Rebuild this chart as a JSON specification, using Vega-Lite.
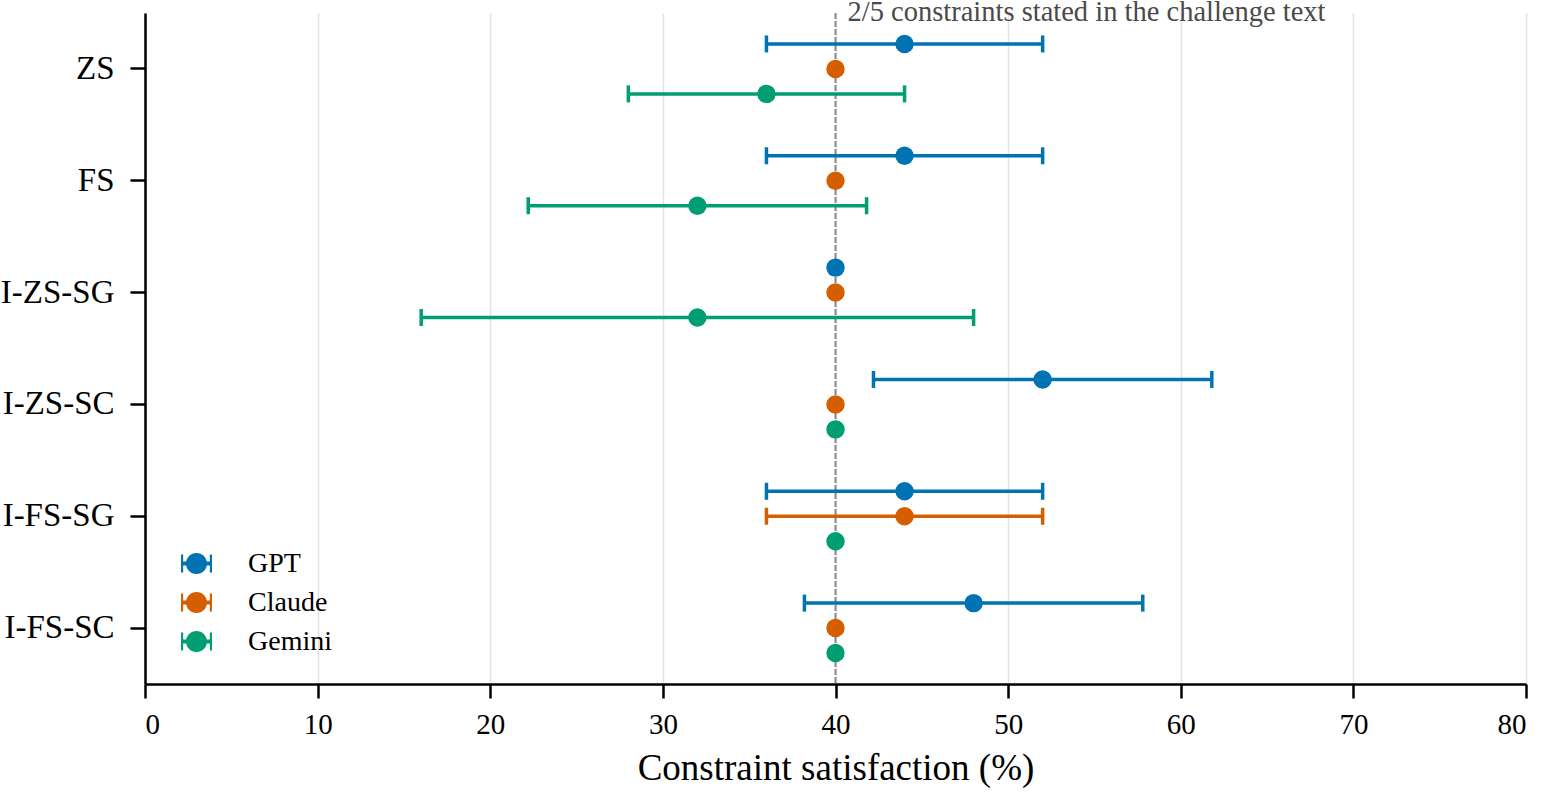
{
  "$schema": "https://vega.github.io/schema/vega-lite/v6.json",
  "width": 1381,
  "height": 671,
  "autosize": "none",
  "padding": {"left": 145, "top": 13, "right": 17, "bottom": 108},
  "background": "white",
  "config": {
    "view": {"stroke": null},
    "font": "Liberation Serif",
    "axis": {"labelFont": "Liberation Serif", "titleFont": "Liberation Serif", "labelColor": "black", "titleColor": "black", "titleFontWeight": "normal"},
    "legend": {"labelFont": "Liberation Serif"}
  },
  "datasets": {
    "scores": [
      {"setting": "ZS", "model": "GPT", "mean": 44, "lo": 36, "hi": 52},
      {"setting": "ZS", "model": "Claude", "mean": 40, "lo": null, "hi": null},
      {"setting": "ZS", "model": "Gemini", "mean": 36, "lo": 28, "hi": 44},
      {"setting": "FS", "model": "GPT", "mean": 44, "lo": 36, "hi": 52},
      {"setting": "FS", "model": "Claude", "mean": 40, "lo": null, "hi": null},
      {"setting": "FS", "model": "Gemini", "mean": 32, "lo": 22.2, "hi": 41.8},
      {"setting": "I-ZS-SG", "model": "GPT", "mean": 40, "lo": null, "hi": null},
      {"setting": "I-ZS-SG", "model": "Claude", "mean": 40, "lo": null, "hi": null},
      {"setting": "I-ZS-SG", "model": "Gemini", "mean": 32, "lo": 16, "hi": 48},
      {"setting": "I-ZS-SC", "model": "GPT", "mean": 52, "lo": 42.2, "hi": 61.8},
      {"setting": "I-ZS-SC", "model": "Claude", "mean": 40, "lo": null, "hi": null},
      {"setting": "I-ZS-SC", "model": "Gemini", "mean": 40, "lo": null, "hi": null},
      {"setting": "I-FS-SG", "model": "GPT", "mean": 44, "lo": 36, "hi": 52},
      {"setting": "I-FS-SG", "model": "Claude", "mean": 44, "lo": 36, "hi": 52},
      {"setting": "I-FS-SG", "model": "Gemini", "mean": 40, "lo": null, "hi": null},
      {"setting": "I-FS-SC", "model": "GPT", "mean": 48, "lo": 38.2, "hi": 57.8},
      {"setting": "I-FS-SC", "model": "Claude", "mean": 40, "lo": null, "hi": null},
      {"setting": "I-FS-SC", "model": "Gemini", "mean": 40, "lo": null, "hi": null}
    ],
    "reference": [
      {"value": 40, "note": "2/5 constraints stated in the challenge text"}
    ]
  },
  "layer": [
    {
      "data": {"name": "reference"},
      "mark": {"type": "rule", "color": "#8a8a8a", "strokeWidth": 2, "strokeDash": [6, 2]},
      "encoding": {
        "x": {"field": "value", "type": "quantitative", "scale": {"domain": [0, 80], "nice": false},
          "axis": {
            "values": [0, 10, 20, 30, 40, 50, 60, 70, 80],
            "title": "Constraint satisfaction (%)",
            "titleFontSize": 37,
            "titlePadding": 11,
            "labelFontSize": 29,
            "labelPadding": 12,
            "tickSize": 14,
            "tickWidth": 2.5,
            "tickColor": "black",
            "domainColor": "black",
            "domainWidth": 2.5,
            "grid": true,
            "gridColor": "#e3e3e3",
            "gridWidth": 1.5
          }
        }
      }
    },
    {
      "data": {"name": "reference"},
      "mark": {"type": "text", "align": "left", "baseline": "alphabetic", "dx": 12, "dy": 8, "fontSize": 28.5, "color": "#4a4a4a", "font": "Liberation Serif"},
      "encoding": {
        "x": {"field": "value", "type": "quantitative"},
        "y": {"value": 0},
        "text": {"field": "note"}
      }
    },
    {
      "data": {"name": "scores"},
      "transform": [{"filter": "datum.lo != null"}],
      "mark": {"type": "rule", "strokeWidth": 3.5, "opacity": 1},
      "encoding": {
        "y": {"field": "setting", "type": "nominal", "sort": ["ZS", "FS", "I-ZS-SG", "I-ZS-SC", "I-FS-SG", "I-FS-SC"]},
        "yOffset": {"field": "model", "type": "nominal", "sort": ["GPT", "Claude", "Gemini"]},
        "x": {"field": "lo", "type": "quantitative"},
        "x2": {"field": "hi"},
        "color": {"field": "model", "type": "nominal", "sort": ["GPT", "Claude", "Gemini"]}
      }
    },
    {
      "data": {"name": "scores"},
      "transform": [{"filter": "datum.lo != null"}, {"fold": ["lo", "hi"], "as": ["end", "edge"]}],
      "mark": {"type": "tick", "orient": "vertical", "size": 17, "thickness": 3.5, "opacity": 1},
      "encoding": {
        "y": {"field": "setting", "type": "nominal", "sort": ["ZS", "FS", "I-ZS-SG", "I-ZS-SC", "I-FS-SG", "I-FS-SC"]},
        "yOffset": {"field": "model", "type": "nominal", "sort": ["GPT", "Claude", "Gemini"]},
        "x": {"field": "edge", "type": "quantitative"},
        "color": {"field": "model", "type": "nominal", "sort": ["GPT", "Claude", "Gemini"]}
      }
    },
    {
      "data": {"name": "scores"},
      "mark": {"type": "circle", "size": 340, "opacity": 1},
      "encoding": {
        "y": {
          "field": "setting", "type": "nominal",
          "sort": ["ZS", "FS", "I-ZS-SG", "I-ZS-SC", "I-FS-SG", "I-FS-SC"],
          "scale": {"paddingInner": 0, "paddingOuter": 0},
          "axis": {
            "title": null,
            "labelFontSize": 33,
            "labelPadding": 16,
            "tickSize": 15,
            "tickWidth": 2.5,
            "tickColor": "black",
            "domainColor": "black",
            "domainWidth": 2.5,
            "grid": false
          }
        },
        "yOffset": {
          "field": "model", "type": "nominal",
          "sort": ["GPT", "Claude", "Gemini"],
          "scale": {"paddingInner": 0, "paddingOuter": 0.74}
        },
        "x": {"field": "mean", "type": "quantitative"},
        "color": {
          "field": "model", "type": "nominal",
          "sort": ["GPT", "Claude", "Gemini"],
          "scale": {"domain": ["GPT", "Claude", "Gemini"], "range": ["#0173b2", "#d55e00", "#029e73"]},
          "legend": {
            "title": null,
            "orient": "none",
            "legendX": 36,
            "legendY": 535,
            "padding": 0,
            "symbolType": "M-1,-0.58 H-0.86 V-0.13 H-0.6 V0.13 H-0.86 V0.58 H-1 Z M0.6,-0.13 H0.86 V-0.58 H1 V0.58 H0.86 V0.13 H0.6 Z M-0.68,0 A0.68,0.68 0 1,1 0.68,0 A0.68,0.68 0 1,1 -0.68,0 Z",
            "symbolSize": 961,
            "symbolStrokeWidth": 0,
            "symbolOpacity": 1,
            "labelFontSize": 28,
            "labelColor": "black",
            "labelOffset": 36,
            "rowPadding": 9,
            "encode": {
              "symbols": {"update": {"opacity": {"value": 1}, "fillOpacity": {"value": 1}, "strokeWidth": {"value": 0}}}
            }
          }
        }
      }
    }
  ]
}
